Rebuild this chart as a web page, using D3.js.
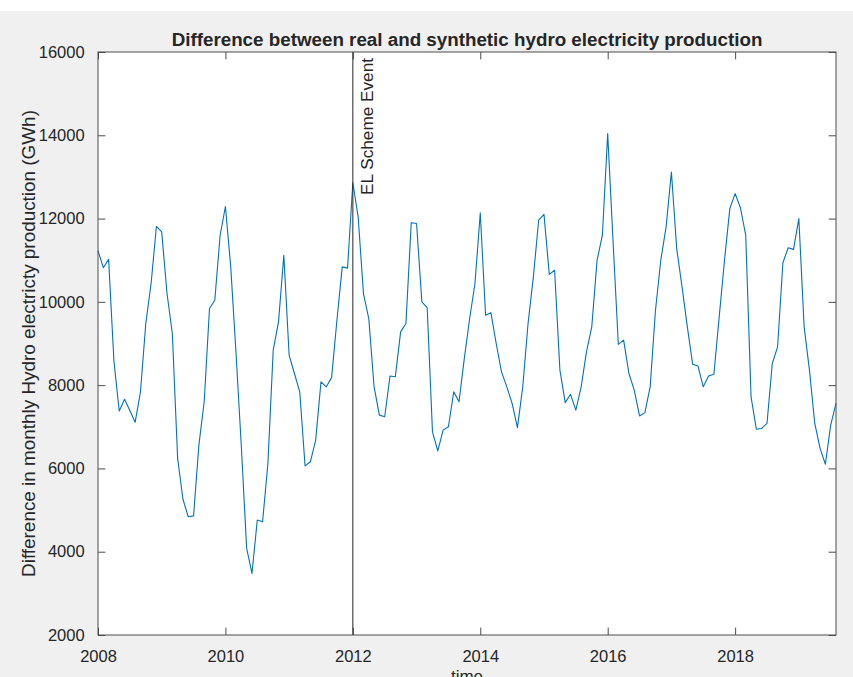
<!DOCTYPE html>
<html>
<head>
<meta charset="utf-8">
<script src="https://cdn.jsdelivr.net/npm/d3@7"></script>
<style>
  html, body { margin: 0; padding: 0; background: #f0f0f0; }
  svg { display: block; }
  text { font-family: "Liberation Sans", Arial, Helvetica, sans-serif; fill: #262626; }
</style>
</head>
<body>
<svg id="chart" width="853" height="677"></svg>
<script>
// ---------------- data ----------------
const startYear = 2008;           // first month = Jan 2008, monthly series
const values = [
  11230,10820,11020,8580,7380,7660,7390,7110,7840,9480,10440,11810,
  11680,10200,9240,6240,5260,4840,4860,6560,7600,9840,10040,11600,
  12290,10840,8760,6520,4080,3480,4760,4720,6120,8840,9520,11120,
  8720,8280,7840,6060,6160,6680,8080,7960,8180,9560,10840,10810,
  12860,12040,10200,9600,7960,7280,7240,8220,8200,9280,9480,11900,
  11880,10000,9860,6880,6420,6920,7000,7840,7600,8650,9600,10440,
  12140,9680,9740,9000,8320,7960,7560,6980,7960,9480,10600,11960,
  12100,10660,10760,8360,7580,7780,7400,7960,8800,9400,11000,11600,
  14040,11480,8980,9080,8280,7880,7260,7340,7960,9800,11000,11800,
  13120,11280,10360,9400,8500,8460,7960,8220,8260,9640,11000,12240,
  12600,12260,11600,7720,6940,6960,7080,8520,8920,10940,11300,11260,
  12000,9400,8360,7080,6480,6100,7040,7560
];
const xTicks = [2008, 2010, 2012, 2014, 2016, 2018];
const yTicks = [2000, 4000, 6000, 8000, 10000, 12000, 14000, 16000];
const xDomain = [2008, 2019 + 7/12];
const yDomain = [2000, 16000];
const eventYear = 2012;
const eventLabel = "EL Scheme Event";
const titleText = "Difference between real and synthetic hydro electricity production";
const xLabelText = "time";
const yLabelText = "Difference in monthly Hydro electricty production (GWh)";

// ---------------- layout ----------------
(function () {
const W = 853, H = 677;
const mL = 98, mR = 836, mT = 52, mB = 635;
const svg = d3.select("#chart");

svg.append("rect").attr("x", 0).attr("y", 0).attr("width", W).attr("height", H).attr("fill", "#f0f0f0");
svg.append("rect").attr("x", 0).attr("y", 0).attr("width", W).attr("height", 11).attr("fill", "#ffffff");

const x = d3.scaleLinear().domain(xDomain).range([mL, mR]);
const y = d3.scaleLinear().domain(yDomain).range([mB, mT]);

svg.append("rect").attr("x", mL).attr("y", mT).attr("width", mR - mL).attr("height", mB - mT)
  .attr("fill", "#ffffff");

const tickLen = 7.4;
const axisColor = "#4d4d4d";
const tickFont = 16.5;

function styleAxis(g) {
  g.select(".domain").remove();
  g.selectAll(".tick line").attr("stroke", axisColor).attr("stroke-width", 1);
  g.selectAll(".tick text").attr("fill", "#262626").style("font-size", tickFont + "px")
    .style("font-family", "'Liberation Sans', Arial, Helvetica, sans-serif");
}

const gx = svg.append("g").attr("transform", `translate(0,${mB})`)
  .call(d3.axisBottom(x).tickValues(xTicks).tickFormat(d3.format("d")).tickSizeInner(-tickLen).tickSizeOuter(0).tickPadding(tickLen + 8));
styleAxis(gx);
const gxt = svg.append("g").attr("transform", `translate(0,${mT})`)
  .call(d3.axisTop(x).tickValues(xTicks).tickFormat("").tickSizeInner(-tickLen).tickSizeOuter(0));
styleAxis(gxt);
const gy = svg.append("g").attr("transform", `translate(${mL},0)`)
  .call(d3.axisLeft(y).tickValues(yTicks).tickFormat(d3.format("d")).tickSizeInner(-tickLen).tickSizeOuter(0).tickPadding(tickLen + 6));
styleAxis(gy);
const gyr = svg.append("g").attr("transform", `translate(${mR},0)`)
  .call(d3.axisRight(y).tickValues(yTicks).tickFormat("").tickSizeInner(-tickLen).tickSizeOuter(0));
styleAxis(gyr);

const line = d3.line()
  .x((d, i) => x(startYear + i / 12))
  .y(d => y(d));
svg.append("path").datum(values)
  .attr("d", line)
  .attr("fill", "none")
  .attr("stroke", "#0072BD")
  .attr("stroke-width", 1.1)
  .attr("stroke-linejoin", "round");

function fitText(sel, target, start) {
  sel.style("font-size", start + "px");
  const w = sel.node().getComputedTextLength();
  sel.style("font-size", (start * target / w).toFixed(2) + "px");
}

svg.append("line")
  .attr("x1", x(eventYear)).attr("x2", x(eventYear))
  .attr("y1", y(yDomain[0])).attr("y2", y(yDomain[1]))
  .attr("stroke", "#262626").attr("stroke-width", 1);
const ev = svg.append("text")
  .attr("transform", `translate(${x(eventYear) + 20},${mT + 6}) rotate(-90)`)
  .attr("text-anchor", "end")
  .text(eventLabel);
fitText(ev, 137, 16);

svg.append("rect").attr("x", mL).attr("y", mT).attr("width", mR - mL).attr("height", mB - mT)
  .attr("fill", "none").attr("stroke", axisColor).attr("stroke-width", 1);

const title = svg.append("text")
  .attr("x", (mL + mR) / 2).attr("y", 46)
  .attr("text-anchor", "middle")
  .style("font-weight", "bold")
  .text(titleText);
fitText(title, 591, 16);

const yl = svg.append("text")
  .attr("transform", `translate(35,${(mT + mB) / 2}) rotate(-90)`)
  .attr("text-anchor", "middle")
  .text(yLabelText);
fitText(yl, 467, 17);

svg.append("text")
  .attr("x", (mL + mR) / 2).attr("y", 682)
  .attr("text-anchor", "middle")
  .style("font-size", "17px")
  .text(xLabelText);
})();
</script>
</body>
</html>
